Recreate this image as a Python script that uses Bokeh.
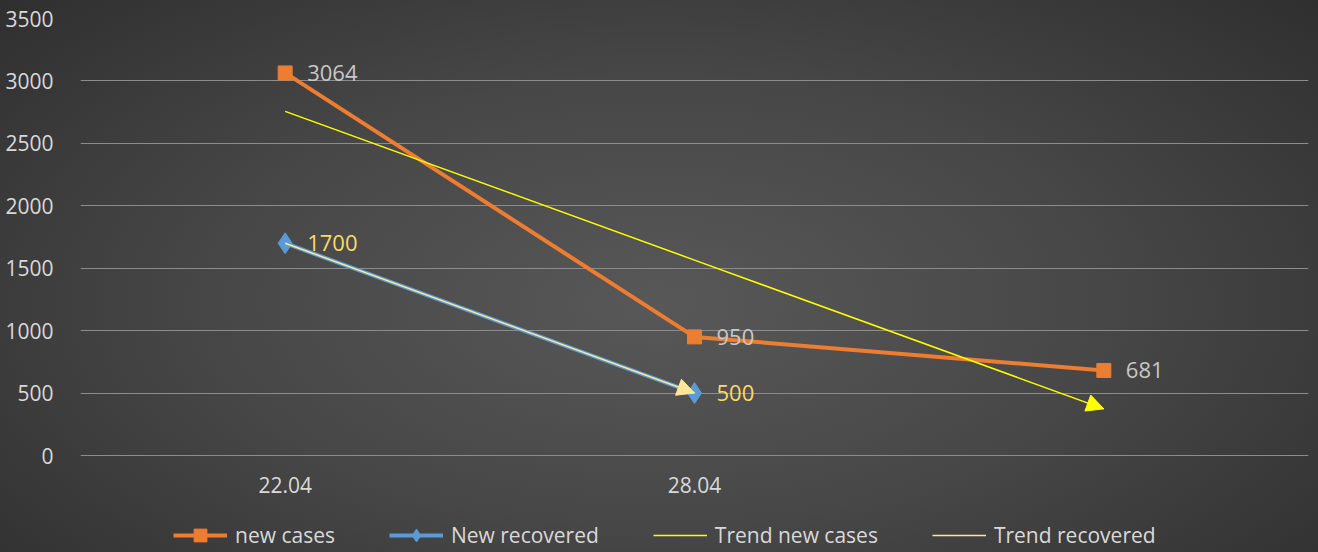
import numpy as np
from bokeh.plotting import figure
from bokeh.models import (ColumnDataSource, Range1d, FixedTicker, Legend, LegendItem,
                          Arrow, NormalHead, LabelSet)
from bokeh.embed import file_html
from bokeh.resources import INLINE
from bokeh.core.properties import value

# ---- data ----
categories = ["22.04", "28.04", ""]
new_cases = [3064, 950, 681]
new_recovered = [1700, 500]
y_ticks = [0, 500, 1000, 1500, 2000, 2500, 3000, 3500]
series_names = ["new cases", "New recovered", "Trend new cases", "Trend recovered"]

x_cases = list(range(1, len(new_cases) + 1))
x_rec = list(range(1, len(new_recovered) + 1))

# Excel-style linear trendlines
trend_cases = list(np.polyval(np.polyfit(x_cases, new_cases, 1), x_cases))
trend_rec = list(np.polyval(np.polyfit(x_rec, new_recovered, 1), x_rec))

FONT = "Open Sans"
ORANGE = "#ED7D31"
BLUE = "#5B9BD5"
YELLOW = "#FFFF00"
LIGHTY = "#FFE699"
TXT = "#D9D9D9"

# layout: frame spans to page bottom; the value axis occupies the upper 437 px
W, H = 1318, 552
TOP, LEFT, RIGHT = 18, 80, 10
PLOT_PX = 437
frame_h = H - TOP
y_max = y_ticks[-1]
y_min = -y_max * (frame_h - PLOT_PX) / PLOT_PX

p = figure(width=W, height=H,
           x_range=Range1d(0.5, len(categories) + 0.5), y_range=Range1d(y_min, y_max),
           output_backend="svg", toolbar_location=None,
           min_border_left=LEFT, min_border_right=RIGHT, min_border_top=TOP, min_border_bottom=0)
p.styles = {"background": "radial-gradient(ellipse 75% 90% at 50% 55%, #585858 0%, #474747 45%, #2a2a2a 100%)"}
p.background_fill_alpha = 0
p.border_fill_alpha = 0
p.outline_line_color = None

p.xgrid.grid_line_color = None
p.ygrid.grid_line_color = "#8C8C8C"
p.ygrid.grid_line_width = 1.2

p.yaxis.ticker = FixedTicker(ticks=y_ticks)
p.xaxis.ticker = FixedTicker(ticks=x_cases)
p.xaxis.major_label_overrides = {i + 1: c for i, c in enumerate(categories)}
p.xaxis.fixed_location = 0
for ax in (p.xaxis, p.yaxis):
    ax.axis_line_color = None
    ax.major_tick_line_color = None
    ax.minor_tick_line_color = None
    ax.major_label_text_color = TXT
    ax.major_label_text_font = FONT
    ax.major_label_text_font_size = "21px"
p.yaxis.major_label_standoff = 21
p.xaxis.major_label_standoff = 15

src_c = ColumnDataSource(dict(x=x_cases, y=new_cases, lbl=[str(v) for v in new_cases]))
src_r = ColumnDataSource(dict(x=x_rec, y=new_recovered, lbl=[str(v) for v in new_recovered]))

r_c_line = p.line("x", "y", source=src_c, line_color=ORANGE, line_width=4)
r_c_mark = p.scatter("x", "y", source=src_c, marker="square", size=14,
                     fill_color=ORANGE, line_color=ORANGE)
r_r_line = p.line("x", "y", source=src_r, line_color=BLUE, line_width=4)
r_r_mark = p.scatter("x", "y", source=src_r, marker="diamond", size=21,
                     fill_color=BLUE, line_color=BLUE)

# trend lines
r_tc = p.line(x_cases, trend_cases, line_color=YELLOW, line_width=1.5)
r_tr = p.line(x_rec, trend_rec, line_color=LIGHTY, line_width=1.5)
p.add_layout(Arrow(end=NormalHead(size=17, fill_color=YELLOW, line_color=YELLOW),
                   x_start=x_cases[-2], y_start=trend_cases[-2],
                   x_end=x_cases[-1], y_end=trend_cases[-1], line_alpha=0))
p.add_layout(Arrow(end=NormalHead(size=17, fill_color=LIGHTY, line_color=LIGHTY),
                   x_start=x_rec[-2], y_start=trend_rec[-2],
                   x_end=x_rec[-1], y_end=trend_rec[-1], line_alpha=0))

# data labels
p.add_layout(LabelSet(x="x", y="y", text="lbl", source=src_c, x_offset=22,
                      text_baseline="middle", text_color="#C8C8C8",
                      text_font=value(FONT), text_font_size="22px"))
p.add_layout(LabelSet(x="x", y="y", text="lbl", source=src_r, x_offset=22,
                      text_baseline="middle", text_color="#FFD966",
                      text_font=value(FONT), text_font_size="22px"))

legend = Legend(items=[
    LegendItem(label=series_names[0], renderers=[r_c_line, r_c_mark]),
    LegendItem(label=series_names[1], renderers=[r_r_line, r_r_mark]),
    LegendItem(label=series_names[2], renderers=[r_tc]),
    LegendItem(label=series_names[3], renderers=[r_tr]),
], orientation="horizontal", location=(93, 1))
legend.background_fill_alpha = 0
legend.border_line_color = None
legend.label_text_color = TXT
legend.label_text_font = FONT
legend.label_text_font_size = "21px"
legend.glyph_width = 54
legend.glyph_height = 32
legend.label_standoff = 8
legend.spacing = 54
legend.padding = 2
legend.margin = 0
p.add_layout(legend, "center")

open("out.html", "w").write(file_html(p, INLINE))
